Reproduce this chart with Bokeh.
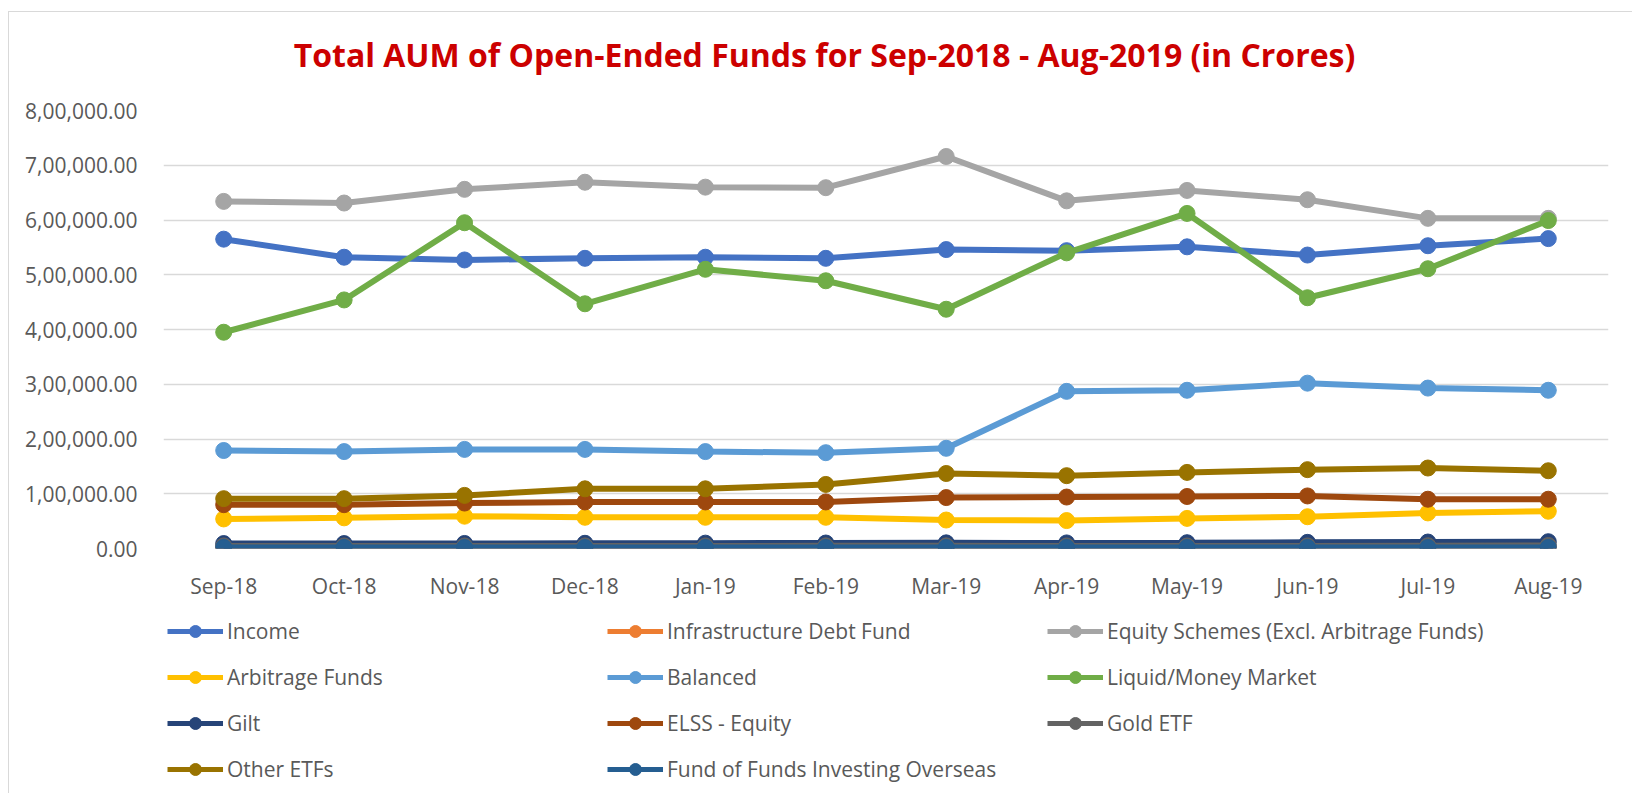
from bokeh.plotting import figure
from bokeh.layouts import column
from bokeh.models import Legend, LegendItem, Label, FixedTicker, FactorRange, Range1d
from bokeh.embed import file_html
from bokeh.resources import INLINE

# ---------------- data ----------------
months = ["Sep-18", "Oct-18", "Nov-18", "Dec-18", "Jan-19", "Feb-19",
          "Mar-19", "Apr-19", "May-19", "Jun-19", "Jul-19", "Aug-19"]

income = [565000, 532000, 527000, 530000, 532000, 530000, 546000, 544000, 551000, 536000, 553000, 566000]
infra_debt = [1300, 1300, 1300, 1400, 1400, 1400, 1500, 1500, 1500, 1500, 1600, 1600]
equity_schemes = [634000, 631000, 656000, 669000, 660000, 659000, 716000, 635000, 654000, 637000, 603000, 603000]
arbitrage = [54000, 56000, 59000, 57000, 57000, 57000, 52000, 51000, 55000, 58000, 65000, 68000]
balanced = [179000, 177000, 181000, 181000, 177000, 175000, 183000, 287000, 289000, 302000, 293000, 289000]
liquid = [395000, 454000, 595000, 447000, 510000, 489000, 437000, 540000, 612000, 458000, 511000, 599000]
gilt = [9000, 9000, 9200, 9500, 9800, 10000, 10300, 10200, 10600, 11200, 11800, 12400]
elss = [80000, 80000, 83000, 85000, 85000, 85000, 93000, 94000, 95000, 96000, 90000, 90000]
gold_etf = [4600, 4600, 4600, 4700, 4700, 4800, 4800, 4700, 4600, 4700, 5100, 5600]
other_etfs = [91000, 91000, 97000, 109000, 109000, 117000, 137000, 133000, 139000, 144000, 147000, 142000]
fof_overseas = [2000, 2000, 1900, 1900, 1900, 1900, 1900, 1900, 1900, 1900, 1900, 2000]

series_names = ["Income", "Infrastructure Debt Fund", "Equity Schemes (Excl. Arbitrage Funds)",
                "Arbitrage Funds", "Balanced", "Liquid/Money Market",
                "Gilt", "ELSS - Equity", "Gold ETF",
                "Other ETFs", "Fund of Funds Investing Overseas"]
series_values = [income, infra_debt, equity_schemes, arbitrage, balanced, liquid,
                 gilt, elss, gold_etf, other_etfs, fof_overseas]
series_colors = ["#4472C4", "#ED7D31", "#A5A5A5", "#FFC000", "#5B9BD5", "#70AD47",
                 "#264478", "#9E480E", "#636363", "#997300", "#255E91"]

y_ticks = [0, 100000, 200000, 300000, 400000, 500000, 600000, 700000, 800000]
y_tick_labels = ["0.00", "1,00,000.00", "2,00,000.00", "3,00,000.00", "4,00,000.00",
                 "5,00,000.00", "6,00,000.00", "7,00,000.00", "8,00,000.00"]

title_text = "Total AUM of Open-Ended Funds for Sep-2018 - Aug-2019 (in Crores)"

FONT = "Open Sans"
TXT = "#595959"
W = 1623


def blank_fig(h):
    f = figure(width=W, height=h, title=None, x_axis_type=None, y_axis_type=None,
               x_range=Range1d(0, 1), y_range=Range1d(0, 1),
               output_backend="svg", toolbar_location=None,
               min_border_left=0, min_border_right=0, min_border_top=0, min_border_bottom=0)
    f.outline_line_color = None
    f.grid.visible = False
    f.background_fill_color = "white"
    f.border_fill_color = "white"
    return f


# ---------------- title strip ----------------
t = blank_fig(84)
t.add_layout(Label(x=661, y=42, x_units="screen", y_units="screen", text=title_text,
                   text_font=FONT, text_font_style="bold", text_font_size="32px",
                   text_color="#CC0000", text_align="center", text_baseline="middle"))

# ---------------- main chart ----------------
p = figure(x_range=FactorRange(*months, range_padding=0),
           y_range=Range1d(0, 800000), title=None,
           width=W, height=516,
           output_backend="svg", toolbar_location=None,
           min_border_left=154, min_border_right=24,
           min_border_top=14, min_border_bottom=64)
p.outline_line_color = None
p.background_fill_color = "white"
p.border_fill_color = "white"

p.xgrid.grid_line_color = None
p.ygrid.grid_line_color = "#d9d9d9"
p.ygrid.grid_line_width = 1.5
p.ygrid.ticker = FixedTicker(ticks=y_ticks)

p.yaxis.ticker = FixedTicker(ticks=y_ticks)
p.yaxis.major_label_overrides = {tk: lb for tk, lb in zip(y_ticks, y_tick_labels)}
for ax in (p.xaxis[0], p.yaxis[0]):
    ax.axis_line_color = None
    ax.major_tick_line_color = None
    ax.minor_tick_line_color = None
    ax.major_label_text_font = FONT
    ax.major_label_text_font_size = "21px"
    ax.major_label_text_color = TXT
p.yaxis.major_label_standoff = 20
p.xaxis.major_label_standoff = 17

for vals, col in zip(series_values, series_colors):
    p.line(months, vals, line_color=col, line_width=6)
    p.scatter(months, vals, size=16, fill_color=col, line_color=col)

# ---------------- legend strip ----------------
lg = figure(width=W, height=181, title=None, x_axis_type=None, y_axis_type=None,
            x_range=FactorRange(*months), y_range=Range1d(-2, -1),
            output_backend="svg", toolbar_location=None,
            min_border_left=0, min_border_right=0, min_border_top=0, min_border_bottom=0)
lg.outline_line_color = None
lg.grid.visible = False
lg.background_fill_color = "white"
lg.border_fill_color = "white"

items = []
for name, vals, col in zip(series_names, series_values, series_colors):
    r1 = lg.line(months, vals, line_color=col, line_width=5)
    r2 = lg.scatter(months, vals, size=14, fill_color=col, line_color=col)
    items.append(LegendItem(label=name, renderers=[r1, r2]))

col_items = [items[0::3], items[1::3], items[2::3]]
col_x = [4, 444, 884]
for its, vx in zip(col_items, col_x):
    h = len(its) * 30 + (len(its) - 1) * 16
    vy = 181 - (4 + h)
    leg = Legend(items=its, location=(vx, vy), orientation="vertical",
                 glyph_width=56, glyph_height=30, label_height=30, spacing=16,
                 label_standoff=4, padding=0, margin=0,
                 border_line_color=None, background_fill_alpha=0,
                 label_text_font=FONT, label_text_font_size="21px",
                 label_text_color=TXT)
    lg.add_layout(leg, "center")

layout = column(t, p, lg, spacing=0)
layout.styles = {"margin-left": "8px", "margin-top": "11px",
                 "border-top": "1px solid #d9d9d9", "border-left": "1px solid #d9d9d9"}

open("out.html", "w").write(file_html(layout, INLINE))
